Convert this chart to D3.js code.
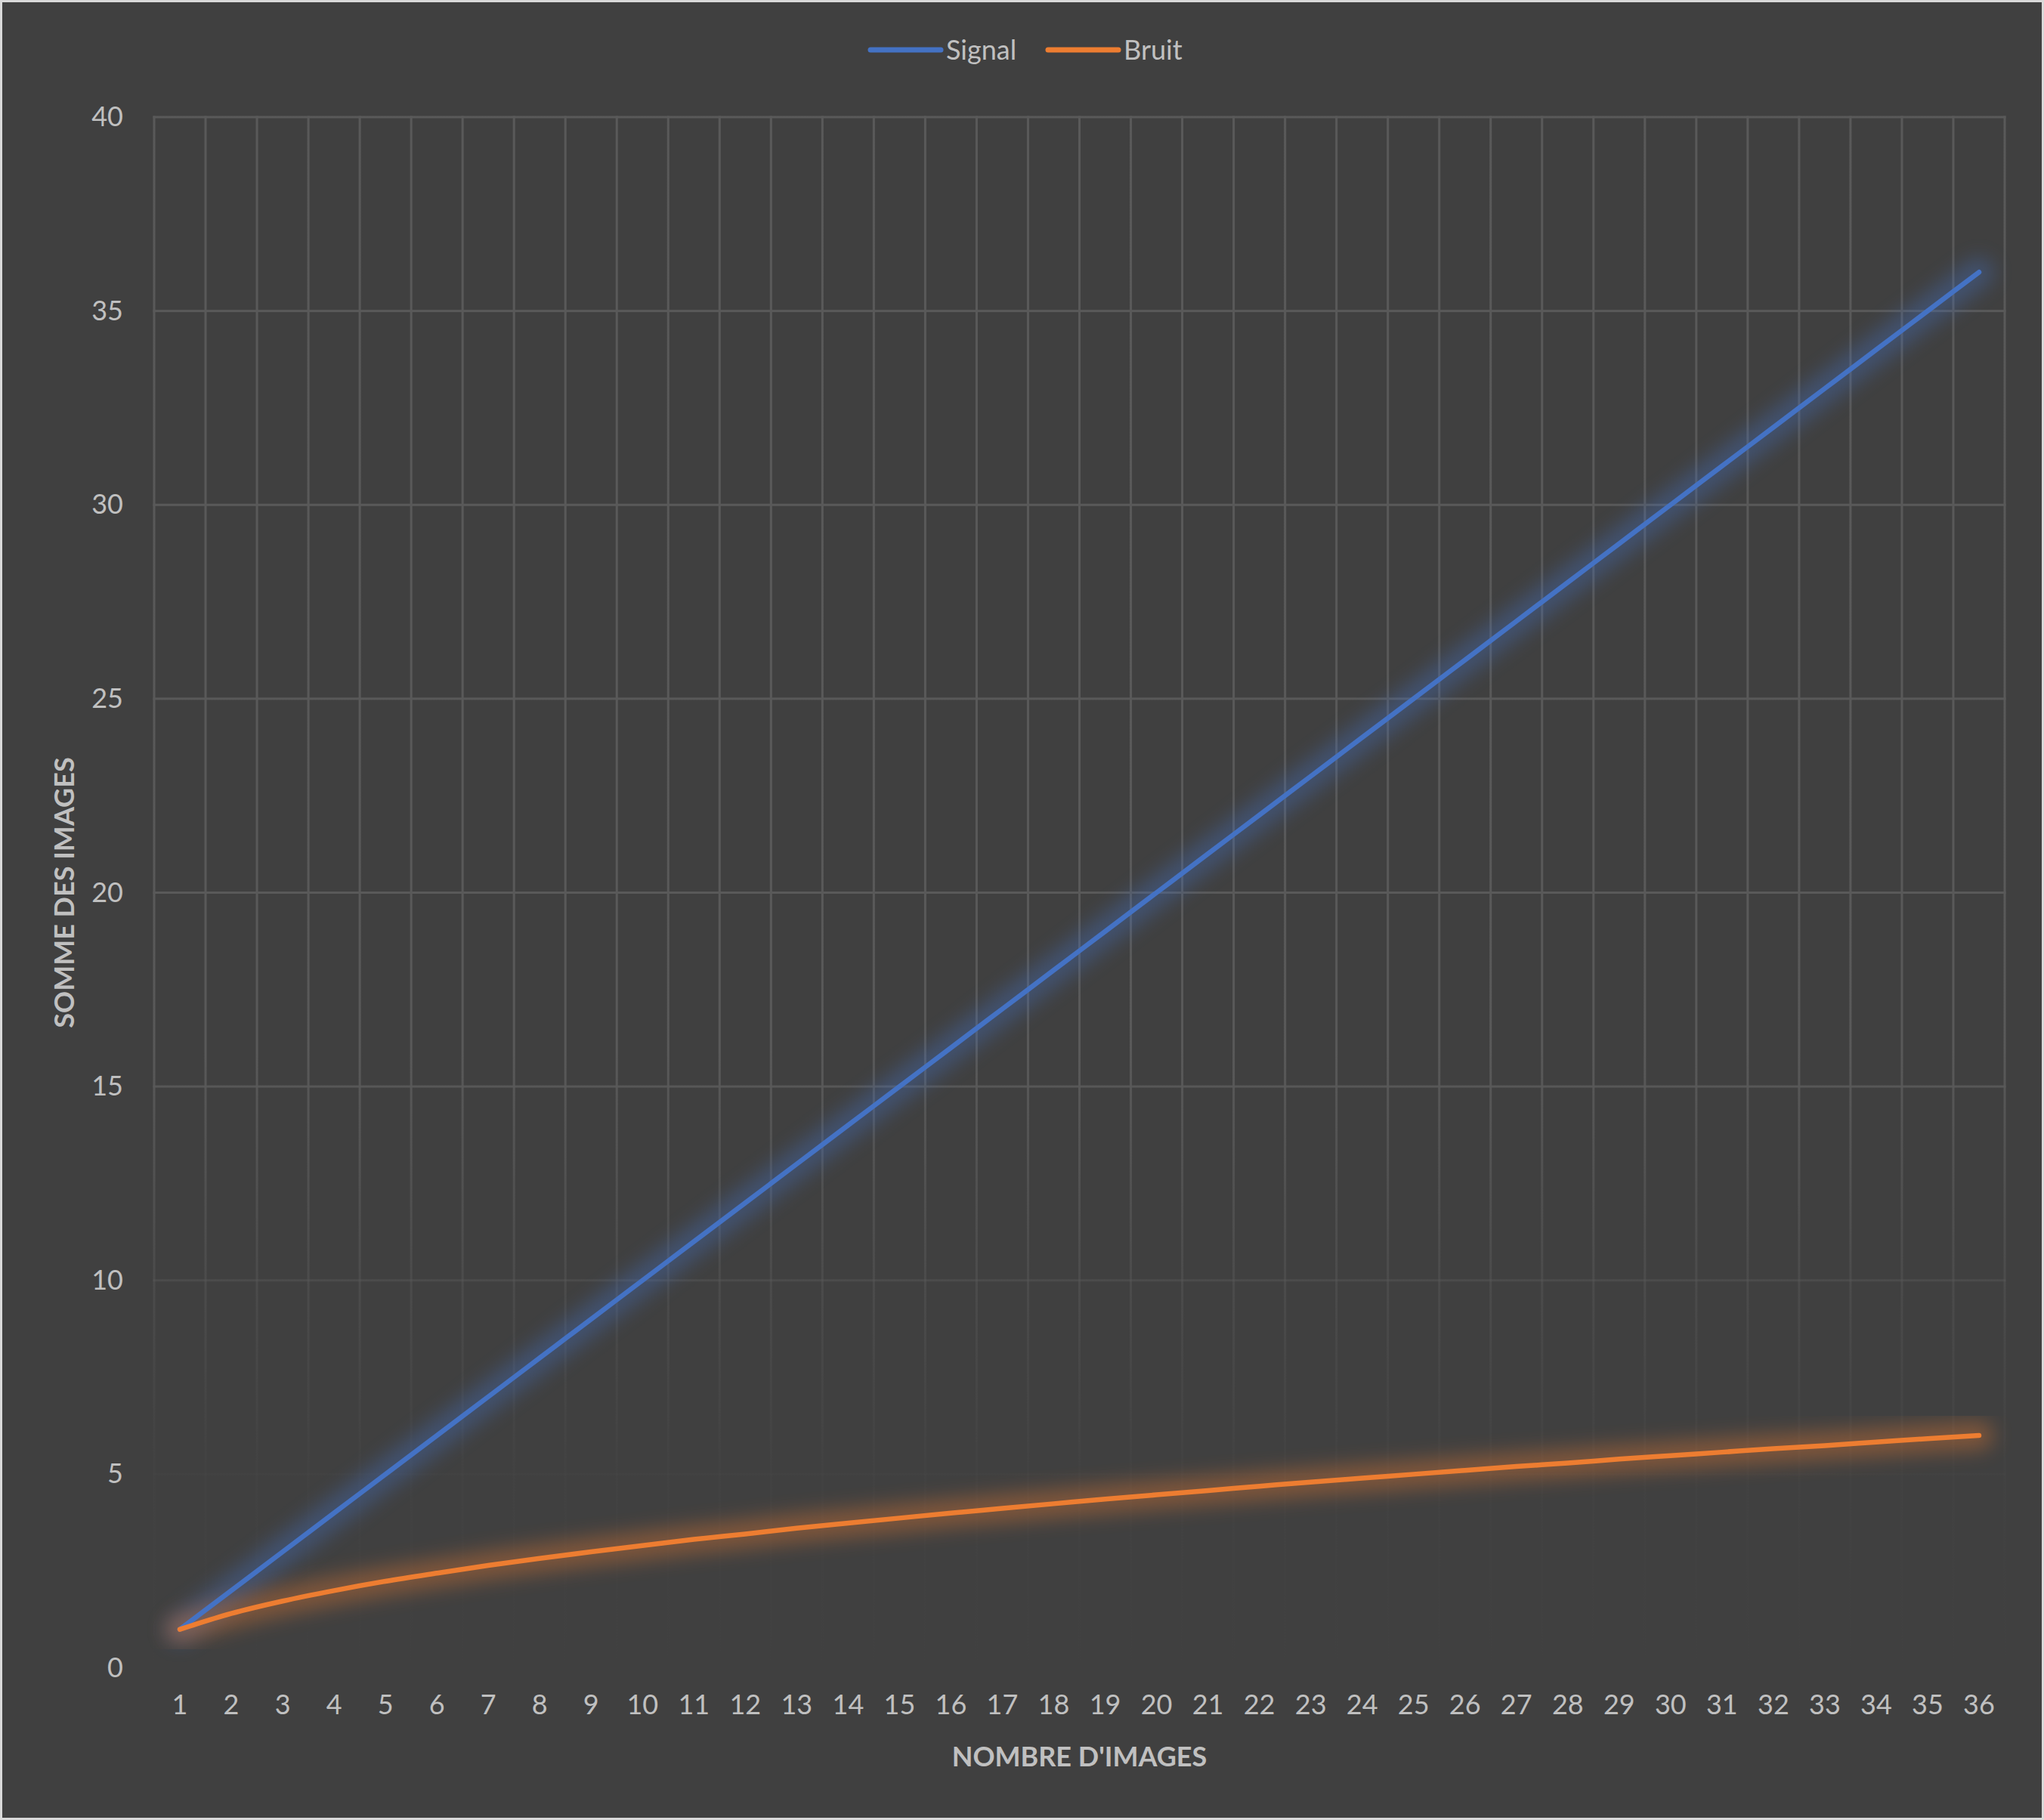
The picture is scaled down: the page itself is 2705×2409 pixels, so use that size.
<!DOCTYPE html>
<html>
<head>
<meta charset="utf-8">
<script src="https://cdn.jsdelivr.net/npm/d3@7"></script>
<style>
  html, body { margin: 0; padding: 0; background: #404040; }
  svg { display: block; font-family: Lato, "Open Sans", sans-serif; }
</style>
</head>
<body>
<script>
// data
var images = [1,2,3,4,5,6,7,8,9,10,11,12,13,14,15,16,17,18,19,20,21,22,23,24,25,26,27,28,29,30,31,32,33,34,35,36];
var signal = [1,2,3,4,5,6,7,8,9,10,11,12,13,14,15,16,17,18,19,20,21,22,23,24,25,26,27,28,29,30,31,32,33,34,35,36];
var bruit = [1,1.41,1.73,2,2.24,2.45,2.65,2.83,3,3.16,3.32,3.46,3.61,3.74,3.87,4,4.12,4.24,4.36,4.47,4.58,4.69,4.8,4.9,5,5.1,5.2,5.29,5.39,5.48,5.57,5.66,5.74,5.83,5.92,6];
var yTicks = [0,5,10,15,20,25,30,35,40];
var seriesNames = ["Signal", "Bruit"];
var seriesColors = ["#4472c4", "#ed7d31"];

var width = 2705, height = 2409;
var margin = {top: 155, right: 52, bottom: 201, left: 204};
var textColor = "#c0c0c0";
var gridColor = "#595959";

var svg = d3.select("body").append("svg")
    .attr("width", width)
    .attr("height", height);

svg.append("rect")
    .attr("x", 1.5).attr("y", 1.5)
    .attr("width", width - 3).attr("height", height - 3)
    .attr("fill", "#404040")
    .attr("stroke", "#d9d9d9")
    .attr("stroke-width", 3);

var x = d3.scaleBand()
    .domain(images)
    .range([margin.left, width - margin.right]);

var y = d3.scaleLinear()
    .domain([0, 40])
    .range([height - margin.bottom, margin.top]);

var defs = svg.append("defs");

// gridlines fade out towards the bottom
var grad = defs.append("linearGradient")
    .attr("id", "gridFade")
    .attr("gradientUnits", "userSpaceOnUse")
    .attr("x1", 0).attr("x2", 0)
    .attr("y1", y(40)).attr("y2", y(0));
[[0, 1], [0.6, 1], [0.75, 0.45], [0.87, 0.08], [1, 0]].forEach(function(s) {
    grad.append("stop")
        .attr("offset", s[0])
        .attr("stop-color", gridColor)
        .attr("stop-opacity", s[1]);
});

var glow = defs.append("filter")
    .attr("id", "glow")
    .attr("x", "-10%").attr("y", "-10%")
    .attr("width", "120%").attr("height", "120%");
glow.append("feGaussianBlur").attr("stdDeviation", 13);

var grid = svg.append("g").attr("fill", "url(#gridFade)");

// horizontal gridlines
grid.selectAll("rect.h")
    .data(yTicks)
    .join("rect")
    .attr("class", "h")
    .attr("x", margin.left - 1.5)
    .attr("y", function(d) { return y(d) - 1.5; })
    .attr("width", width - margin.left - margin.right + 3)
    .attr("height", 3);

// vertical gridlines at category boundaries
var bounds = images.map(function(d) { return x(d); }).concat([x(images[images.length - 1]) + x.bandwidth()]);
grid.selectAll("rect.v")
    .data(bounds)
    .join("rect")
    .attr("class", "v")
    .attr("x", function(d) { return d - 1.5; })
    .attr("y", y(40) - 1.5)
    .attr("width", 3)
    .attr("height", y(0) - y(40) + 3);

// y tick labels
svg.append("g")
    .attr("transform", "translate(" + (margin.left - 38) + ",0)")
    .call(d3.axisLeft(y).tickValues(yTicks).tickSize(0))
    .call(function(g) {
        g.select(".domain").remove();
        g.selectAll("text")
            .attr("fill", textColor)
            .attr("font-size", 36)
            .attr("font-family", "Lato, sans-serif");
    });

// x tick labels
svg.append("g")
    .attr("transform", "translate(0," + (y(0) + 32) + ")")
    .call(d3.axisBottom(x).tickSize(0))
    .call(function(g) {
        g.select(".domain").remove();
        g.selectAll("text")
            .attr("fill", textColor)
            .attr("font-size", 36)
            .attr("font-family", "Lato, sans-serif");
    });

// axis titles
svg.append("text")
    .attr("x", (margin.left + width - margin.right) / 2)
    .attr("y", 2338)
    .attr("text-anchor", "middle")
    .attr("fill", textColor)
    .attr("font-size", 36)
    .attr("font-weight", "bold")
    .text("NOMBRE D'IMAGES");

svg.append("text")
    .attr("transform", "translate(98," + ((y(0) + y(40)) / 2) + ") rotate(-90)")
    .attr("text-anchor", "middle")
    .attr("fill", textColor)
    .attr("font-size", 36)
    .attr("font-weight", "bold")
    .text("SOMME DES IMAGES");

var line = d3.line()
    .x(function(d, i) { return x(images[i]) + x.bandwidth() / 2; })
    .y(function(d) { return y(d); })
    .curve(d3.curveMonotoneX);

var series = [signal, bruit];

// glow underneath
svg.append("g").selectAll("path")
    .data(series)
    .join("path")
    .attr("d", line)
    .attr("fill", "none")
    .attr("stroke", function(d, i) { return seriesColors[i]; })
    .attr("stroke-width", 38)
    .attr("stroke-linecap", "round")
    .attr("stroke-linejoin", "round")
    .attr("opacity", 0.36)
    .attr("filter", "url(#glow)");

svg.append("g").selectAll("path")
    .data(series)
    .join("path")
    .attr("d", line)
    .attr("fill", "none")
    .attr("stroke", function(d, i) { return seriesColors[i]; })
    .attr("stroke-width", 6.5)
    .attr("stroke-linecap", "round")
    .attr("stroke-linejoin", "round");

// legend
var legendX = [1152, 1387];
var legend = svg.append("g").selectAll("g")
    .data(seriesNames)
    .join("g")
    .attr("transform", function(d, i) { return "translate(" + legendX[i] + ",66)"; });

legend.append("line")
    .attr("x1", 0).attr("x2", 93)
    .attr("y1", 0).attr("y2", 0)
    .attr("stroke", function(d, i) { return seriesColors[i]; })
    .attr("stroke-width", 7)
    .attr("stroke-linecap", "round");

legend.append("text")
    .attr("x", 100)
    .attr("y", 0)
    .attr("dy", "0.35em")
    .attr("fill", textColor)
    .attr("font-size", 36)
    .text(function(d) { return d; });
</script>
</body>
</html>
